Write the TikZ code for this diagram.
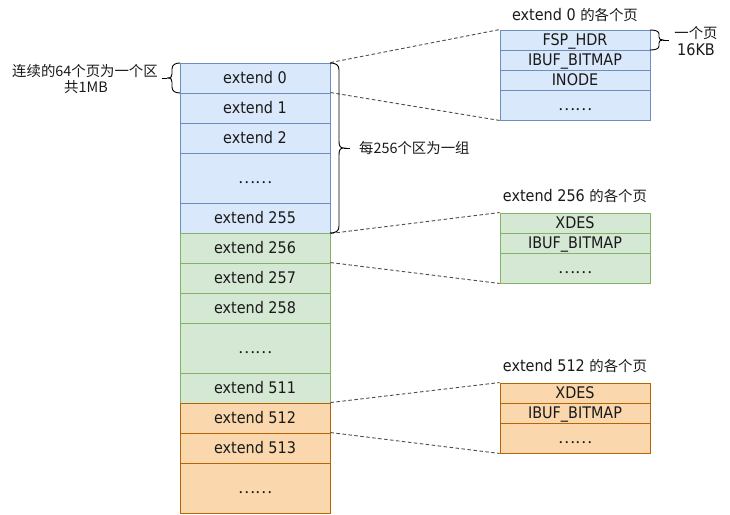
\documentclass[tikz,border=0pt]{standalone}
\usepackage{fontspec}
\setmainfont{DejaVu Sans Condensed}
\newfontfamily\cjk{Noto Sans CJK SC}[Scale=0.9]
\newfontfamily\cjkdots{Noto Sans CJK SC}
\definecolor{bfill}{HTML}{DAE8FC}
\definecolor{bline}{HTML}{6C8EBF}
\definecolor{gfill}{HTML}{D5E8D4}
\definecolor{gline}{HTML}{82B366}
\definecolor{ofill}{HTML}{FAD7AC}
\definecolor{oline}{HTML}{B46504}
\definecolor{txt}{HTML}{1A1A1A}
\definecolor{dashc}{HTML}{4D4D4D}
\newcommand{\dotsrow}{{\cjkdots ……}}
\begin{document}
\begin{tikzpicture}[x=1pt,y=-1pt,
  every node/.style={font=\fontsize{16}{17}\selectfont, text=txt},
  cell/.style={draw, line width=0.9pt, minimum width=150pt, inner sep=0pt, minimum height=30pt, text height=11.7pt, text depth=0pt},
  bluec/.style={cell, fill=bfill, draw=bline},
  greenc/.style={cell, fill=gfill, draw=gline},
  orangec/.style={cell, fill=ofill, draw=oline},
  link/.style={draw=dashc, line width=0.9pt, dash pattern=on 3.5pt off 2.5pt},
  bracep/.style={draw=black, line width=0.9pt},
  lbl/.style={align=center, inner sep=0pt}]
\useasboundingbox (0,0) rectangle (730,514);
% main column
\node[bluec] (e0) at (255,78) {extend 0};
\node[bluec] (e1) at (255,108) {extend 1};
\node[bluec] (e2) at (255,138) {extend 2};
\node[bluec, minimum height=50pt] (ed1) at (255,178) {\dotsrow};
\node[bluec] (e255) at (255,218) {extend 255};
\node[greenc] (e256) at (255,248) {extend 256};
\node[greenc] (e257) at (255,278) {extend 257};
\node[greenc] (e258) at (255,308) {extend 258};
\node[greenc, minimum height=50pt] (ed2) at (255,348) {\dotsrow};
\node[greenc] (e511) at (255,388) {extend 511};
\node[orangec] (e512) at (255,418) {extend 512};
\node[orangec] (e513) at (255,448) {extend 513};
\node[orangec, minimum height=50pt] (ed3) at (255,488) {\dotsrow};
% extend 0 pages
\node[lbl] (l0) at (575,15) {extend 0 {\cjk 的各个页}};
\node[bluec, minimum height=20pt] (p0a) at (575,40) {FSP\_HDR};
\node[bluec, minimum height=20pt] (p0b) at (575,60) {IBUF\_BITMAP};
\node[bluec, minimum height=20pt] (p0c) at (575,80) {INODE};
\node[bluec] (p0d) at (575,105) {\dotsrow};
% extend 256 pages
\node[lbl] (l1) at (575,196) {extend 256 {\cjk 的各个页}};
\node[greenc, minimum height=20pt] (q1) at (575,223) {XDES};
\node[greenc, minimum height=20pt] (q2) at (575,243) {IBUF\_BITMAP};
\node[greenc] (q3) at (575,268) {\dotsrow};
% extend 512 pages
\node[lbl] (l2) at (575,366) {extend 512 {\cjk 的各个页}};
\node[orangec, minimum height=20pt] (r1) at (575,393) {XDES};
\node[orangec, minimum height=20pt] (r2) at (575,413) {IBUF\_BITMAP};
\node[orangec] (r3) at (575,438) {\dotsrow};
% dashed links
\draw[link] (e0.north east) -- (p0a.north west);
\draw[link] (e1.north east) -- (p0d.south west);
\draw[link] (e255.south east) -- (q1.north west);
\draw[link] (e257.north east) -- (q3.south west);
\draw[link] (e512.north east) -- (r1.north west);
\draw[link] (e513.north east) -- (r3.south west);
% main brace
\draw[bracep] (330,63) .. controls (336,63) and (339,65) .. (339,70) -- (339,141)
  .. controls (339,146) and (340,148) .. (344,148)
  .. controls (340,148) and (339,150) .. (339,155) -- (339,226)
  .. controls (339,231) and (336,233) .. (330,233);
\coordinate (mbt) at (344,148);
\coordinate (mbe) at (350,148);
\draw[bracep] (mbt) -- (mbe);
\node[lbl, anchor=west] (mbl) at (359,148) {\cjk 每256个区为一组};
% left brace
\draw[bracep] (180,63) .. controls (175,63) and (172,65) .. (172,69) -- (172,74)
  .. controls (172,77) and (171,78) .. (167,78)
  .. controls (171,78) and (172,79) .. (172,82) -- (172,87)
  .. controls (172,91) and (175,93) .. (180,93);
\coordinate (lbt) at (167,78);
\coordinate (lbe) at (162,78);
\draw[bracep] (lbt) -- (lbe);
\node[lbl] (lbl1) at (85,71) {\cjk 连续的64个页为一个区};
\node[lbl] (lbl2) at (86,87) {\cjk 共1MB};
% small brace
\draw[bracep] (650,30) .. controls (655,30) and (659,31) .. (659,34) -- (659,37)
  .. controls (659,39) and (660,40) .. (663,40)
  .. controls (660,40) and (659,41) .. (659,43) -- (659,46)
  .. controls (659,49) and (655,50) .. (650,50);
\coordinate (sbt) at (663,40);
\coordinate (sbe) at (669,40);
\draw[bracep] (sbt) -- (sbe);
\node[lbl] (sb1) at (696,33) {\cjk 一个页};
\node[lbl] (sb2) at (696,50) {16KB};
\end{tikzpicture}
\end{document}
